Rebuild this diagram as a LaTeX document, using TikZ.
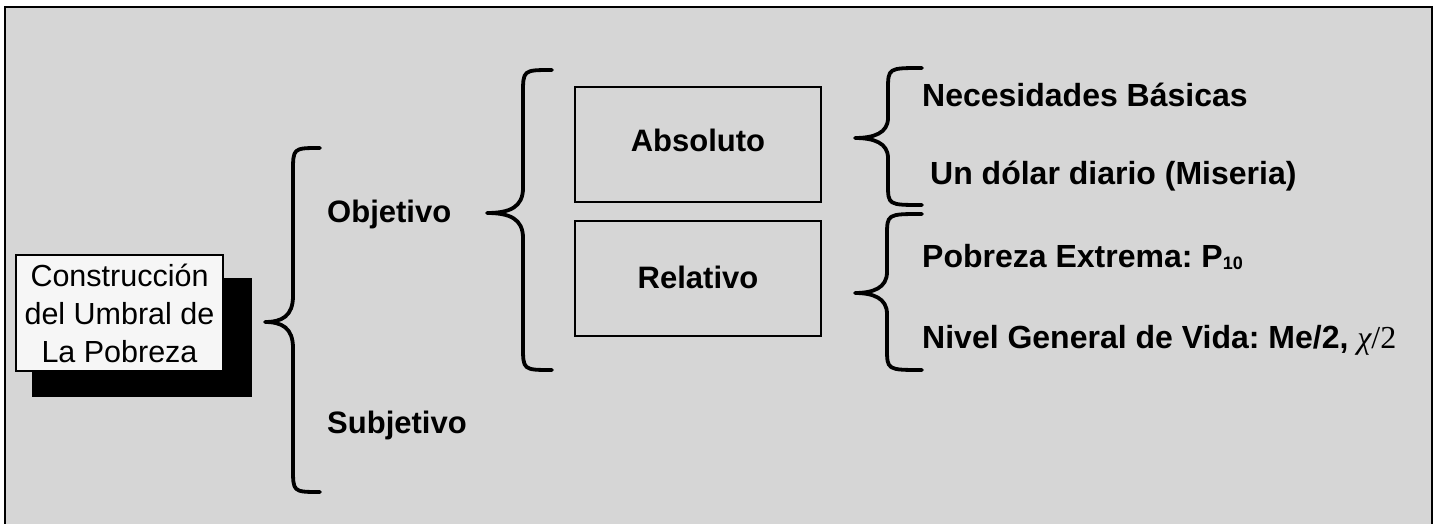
\documentclass[tikz,border=0pt]{standalone}
\usepackage{fontspec}
\setmainfont{Liberation Sans}
\newfontfamily\greekserif{Liberation Serif}
\frenchspacing
\definecolor{paper}{RGB}{214,214,214}
\definecolor{boxwhite}{RGB}{246,246,246}
\tikzset{
  bracepath/.style={line width=3.8pt, line cap=round, line join=round},
  lbl/.style={font=\fontsize{31}{36}\selectfont\bfseries\frenchspacing, inner sep=0pt},
  rlbl/.style={font=\fontsize{32}{36}\selectfont\bfseries\frenchspacing, inner sep=0pt},
  catbox/.style={draw, line width=2.4pt, minimum width=246pt, minimum height=115pt, inner sep=0pt},
}
\begin{document}
\begin{tikzpicture}[x=1pt,y=-1pt]
\useasboundingbox (0,0) rectangle (1438,524);
\fill[white] (0,0) rectangle (1438,524);
\fill[paper] (5,7) rectangle (1432,524);
\draw[line width=2pt] (5,524) -- (5,7) -- (1432,7) -- (1432,524);

% root box with shadow
\fill[black] (32,278) rectangle (252,397);
\node[draw, fill=boxwhite, line width=1.6pt, minimum width=207pt, minimum height=116pt, inner sep=0pt,
  align=center, font=\fontsize{30.5}{38}\selectfont] (root) at (119.5,313)
  {Construcción\\del Umbral de\\La Pobreza};

% level 1 brace
\coordinate (b1tip) at (265,322);
\draw[bracepath] (320,148) .. controls (293,148) .. (293,172) -- (293,296)
  .. controls (293,316) and (282,322) .. (b1tip)
  .. controls (282,322) and (293,328) .. (293,348) -- (293,468)
  .. controls (293,492) .. (320,492);
\node[lbl, anchor=base west] (obj) at (327,222) {Objetivo};
\node[lbl, anchor=base west] (subj) at (327,433) {Subjetivo};

% level 2 brace
\coordinate (b2tip) at (487,213);
\draw[bracepath] (552,70) .. controls (523,70) .. (523,94) -- (523,188)
  .. controls (523,207) and (510,213) .. (b2tip)
  .. controls (510,213) and (523,219) .. (523,238) -- (523,346)
  .. controls (523,370) .. (552,370);
\node[catbox] (abs) at (698,144.5) {};
\node[lbl, anchor=base] (abst) at (698,152) {Absoluto};
\node[catbox] (rel) at (698,278.5) {};
\node[lbl, anchor=base] (relt) at (698,288) {Relativo};

% level 3 braces
\coordinate (b3tip) at (855,138);
\draw[bracepath] (922,68) .. controls (888,68) .. (888,90) -- (888,118)
  .. controls (888,133) and (874,138) .. (b3tip)
  .. controls (874,138) and (888,143) .. (888,158) -- (888,184)
  .. controls (888,205) .. (922,205);
\coordinate (b4tip) at (855,293);
\draw[bracepath] (922,214) .. controls (887,214) .. (887,236) -- (887,272)
  .. controls (887,288) and (873,293) .. (b4tip)
  .. controls (873,293) and (887,298) .. (887,314) -- (887,348)
  .. controls (887,370) .. (922,370);

\node[rlbl, anchor=base west] (nb) at (922,107) {Necesidades Básicas};
\node[rlbl, anchor=base west] (ud) at (930,185) {Un dólar diario (Miseria)};
\node[rlbl, anchor=base west] (pe) at (922,267) {Pobreza Extrema: P\raisebox{-2pt}{\fontsize{18}{18}\selectfont 10}};
\node[rlbl, anchor=base west] (ng) at (922,348) {Nivel General de Vida: Me/2, {\greekserif\mdseries\itshape χ}{\greekserif\mdseries/2}};
\end{tikzpicture}
\end{document}
